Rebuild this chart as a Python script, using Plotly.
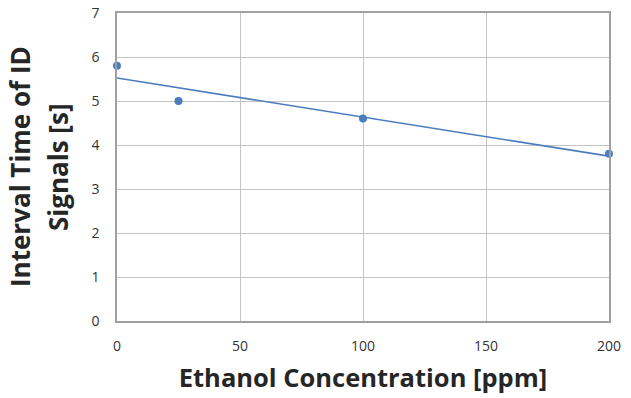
import numpy as np
import plotly.graph_objects as go

concentration = [0, 25, 100, 200]
interval_time = [5.8, 5.0, 4.6, 3.8]
x_ticks = [0, 50, 100, 150, 200]
y_ticks = [0, 1, 2, 3, 4, 5, 6, 7]
x_title = "Ethanol Concentration [ppm]"
y_title_lines = ["Interval Time of ID", "Signals [s]"]

slope, intercept = np.polyfit(concentration, interval_time, 1)
fit_x = [min(concentration), max(concentration)]
fit_y = [slope * v + intercept for v in fit_x]

blue = "#4A7DC0"
fig = go.Figure()
fig.add_trace(go.Scatter(x=fit_x, y=fit_y, mode="lines",
                         line=dict(color=blue, width=1.6), showlegend=False))
fig.add_trace(go.Scatter(x=concentration, y=interval_time, mode="markers",
                         marker=dict(color=blue, size=8), showlegend=False, cliponaxis=False))

font = "Open Sans, Lato, sans-serif"
title_font = dict(size=26, color="#262626", family=font)
for line, shift in zip(y_title_lines, [-97, -59]):
    fig.add_annotation(text=f"<b>{line}</b>", xref="paper", yref="paper", x=0, y=0.5,
                       xshift=shift, xanchor="center", yanchor="middle", textangle=-90,
                       showarrow=False, font=title_font)

fig.update_layout(
    width=631, height=398,
    margin=dict(l=117, r=22, t=13, b=77),
    paper_bgcolor="white", plot_bgcolor="white",
    font=dict(family=font, color="#333333", size=14),
    xaxis=dict(range=[0, 200], tickvals=x_ticks, showgrid=True, gridcolor="#C4C4C4", gridwidth=1,
               showline=True, linecolor="#A0A0A0", linewidth=1.5, mirror=True, zeroline=False,
               ticks="", ticklen=0, automargin=False, ticklabelstandoff=11,
               title=dict(text=f"<b>{x_title}</b>", font=dict(size=25.5, color="#262626"), standoff=16)),
    yaxis=dict(range=[0, 7], tickvals=y_ticks, showgrid=True, gridcolor="#C4C4C4", gridwidth=1,
               showline=True, linecolor="#A0A0A0", linewidth=1.5, mirror=True, zeroline=False,
               ticks="", ticklen=0, ticklabelstandoff=13, automargin=False),
)
fig.write_html("out.html", post_script="document.body.style.margin='0';",
               config={"displayModeBar": False})
